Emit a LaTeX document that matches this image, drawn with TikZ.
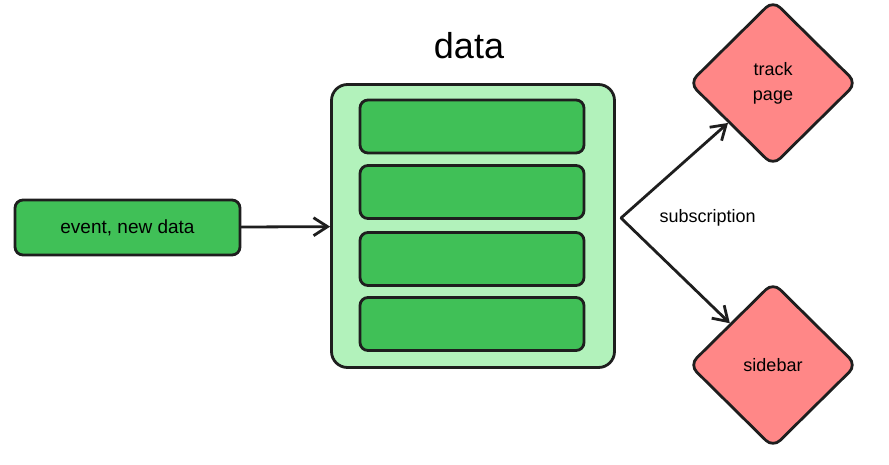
\documentclass[tikz,border=0pt]{standalone}
\usepackage{fontspec}
\setmainfont{Liberation Sans}
\usetikzlibrary{arrows.meta,shapes.geometric}
\definecolor{linegray}{HTML}{1E1E1E}
\definecolor{storegreen}{HTML}{B2F2BB}
\definecolor{rowgreen}{HTML}{40C057}
\definecolor{viewred}{HTML}{FF8787}
\begin{document}
\begin{tikzpicture}[x=1pt,y=-1pt,
  box/.style={draw=linegray,line width=2.8pt,rounded corners=8pt,inner sep=0pt},
  rowbox/.style={box,fill=rowgreen,minimum width=224pt,minimum height=53pt},
  view/.style={diamond,draw=linegray,line width=2.8pt,fill=viewred,rounded corners=10pt,
    minimum width=168pt,minimum height=166pt,inner sep=0pt,align=center,
    font=\fontsize{18}{25}\selectfont},
  link/.style={draw=linegray,line width=2.8pt,line cap=round,
    -{Straight Barb[length=14pt,width=18pt,line width=2.8pt]}}]
\useasboundingbox (0,0) rectangle (889,464);
\node[box,fill=rowgreen,minimum width=225pt,minimum height=55pt,font=\fontsize{19}{22}\selectfont] (event) at (127.5,227.5) {event, new data};
\node[box,fill=storegreen,rounded corners=16pt,minimum width=283pt,minimum height=283pt] (store) at (473,226) {};
\node[font=\fontsize{36}{40}\selectfont] (title) at (469,46) {data};
\node[rowbox] (row1) at (472,126.5) {};
\node[rowbox] (row2) at (472,192) {};
\node[rowbox] (row3) at (472,259) {};
\node[rowbox] (row4) at (472,324) {};
\node[view] (track) at (773,83) {track\\page};
\node[view] (sidebar) at (773,365) {sidebar};
\coordinate (fork) at (621,218);
\node[anchor=west,font=\fontsize{18}{20}\selectfont] (sub) at (656,218) {subscription};
\draw[link] (event) -- (store);
\draw[link] (fork) -- (track);
\draw[link] (fork) -- (sidebar);
\end{tikzpicture}
\end{document}
